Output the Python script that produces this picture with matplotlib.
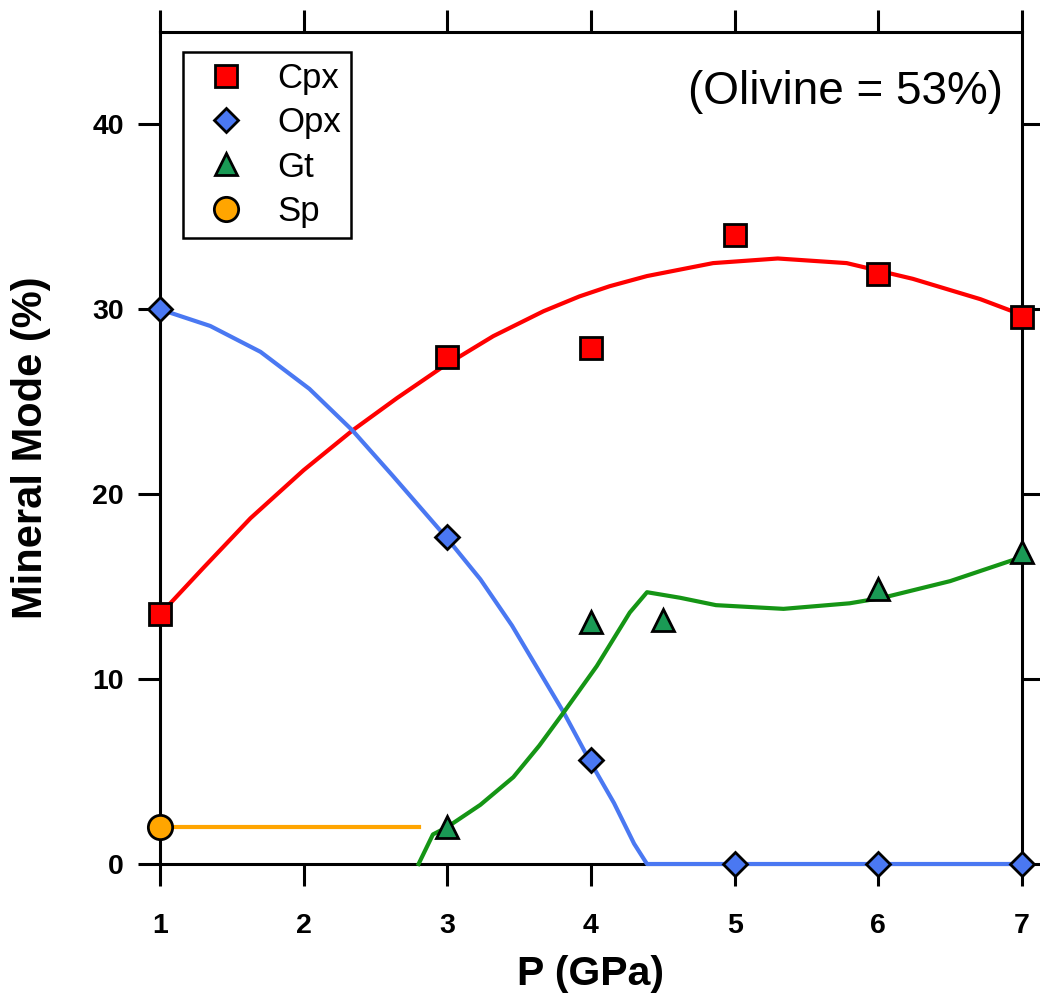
import numpy as np
import matplotlib
matplotlib.use("Agg")
import matplotlib.pyplot as plt

plt.rcParams['font.family'] = ['Liberation Sans', 'DejaVu Sans']

# -----------------------------
# DATA
# -----------------------------
p_cpx = [1, 3, 4, 5, 6, 7]
cpx = [13.5, 27.4, 27.9, 34.0, 31.9, 29.6]

p_opx = [1, 3, 4, 5, 6, 7]
opx = [30.0, 17.7, 5.6, 0.0, 0.0, 0.0]

p_gt = [3, 4, 4.5, 6, 7]
gt = [2.0, 13.1, 13.2, 14.85, 16.9]

p_sp = [1]
sp = [2.0]

# fitted curves, points
cpx_fit_p = [1.0, 1.3, 1.63, 2.0, 2.34, 2.65, 2.97, 3.32, 3.67, 3.92, 4.13, 4.39,
             4.85, 5.3, 5.78, 6.24, 6.71, 7.0]
cpx_fit = [13.5, 16.0, 18.7, 21.3, 23.45, 25.2, 26.9, 28.55, 29.9, 30.7, 31.25, 31.8,
           32.5, 32.75, 32.5, 31.65, 30.55, 29.7]

opx_fit_p = [1.0, 1.35, 1.7, 2.04, 2.34, 2.62, 3.0, 3.23, 3.45, 3.81, 3.99, 4.16,
             4.3, 4.39, 7.0]
opx_fit = [30.0, 29.1, 27.7, 25.7, 23.45, 21.0, 17.6, 15.4, 12.9, 8.2, 5.6, 3.3,
           1.1, 0.0, 0.0]

gt_fit_p = [2.8, 2.9, 3.0, 3.23, 3.46, 3.64, 3.81, 4.04, 4.27, 4.39, 4.62, 4.87,
            5.34, 5.8, 6.03, 6.5, 6.96, 7.0]
gt_fit = [0.0, 1.6, 2.0, 3.2, 4.7, 6.4, 8.2, 10.7, 13.6, 14.7, 14.4, 14.0,
          13.8, 14.1, 14.4, 15.3, 16.5, 16.75]

sp_fit_p = [1.0, 2.8]
sp_fit = [2.0, 2.0]

x_ticks = [1, 2, 3, 4, 5, 6, 7]
y_ticks = [0, 10, 20, 30, 40]

# -----------------------------
# PLOT
# -----------------------------
fig = plt.figure(figsize=(10.4, 10.0), dpi=100)
ax = fig.add_axes([0.1538, 0.136, 0.8289, 0.832])

ax.plot(cpx_fit_p, cpx_fit, color='#ff0000', lw=3.0, zorder=3, clip_on=False)
ax.plot(opx_fit_p, opx_fit, color='#4a78f2', lw=3.0, zorder=3, clip_on=False)
ax.plot(gt_fit_p, gt_fit, color='#159515', lw=3.0, zorder=3, clip_on=False)
ax.plot(sp_fit_p, sp_fit, color='#ffa500', lw=3.0, zorder=3, clip_on=False)

mk = dict(ls='none', mec='black', mew=2.0, zorder=4, clip_on=False)
ax.plot(p_cpx, cpx, marker='s', ms=16, mfc='#ff0000', label='Cpx', **mk)
ax.plot(p_opx, opx, marker='D', ms=12, mfc='#4a78f2', label='Opx', **mk)
ax.plot(p_gt, gt, marker='^', ms=15.5, mfc='#1a9a55', label='Gt', **mk)
ax.plot(p_sp, sp, marker='o', ms=17.5, mfc='#ffa500', label='Sp', **mk)

ax.set_xlim(1, 7)
ax.set_ylim(0, 45)
ax.set_xticks(x_ticks)
ax.set_yticks(y_ticks)

for s in ax.spines.values():
    s.set_linewidth(2.2)
ax.tick_params(direction='out', length=16, width=2.2, top=True, right=True,
               labelsize=20.5, pad=10)
ax.tick_params(axis='x', pad=19)
for lab in ax.get_xticklabels() + ax.get_yticklabels():
    lab.set_fontweight('bold')

ax.set_xlabel('P (GPa)', fontsize=29.5, fontweight='bold', labelpad=12)
ax.set_ylabel('Mineral Mode (%)', fontsize=30, fontweight='bold', labelpad=30)

ax.text(0.978, 0.928, '(Olivine = 53%)', transform=ax.transAxes,
        ha='right', va='center', fontsize=33)

leg = ax.legend(loc='upper left', bbox_to_anchor=(0.027, 0.976), fontsize=25,
                frameon=True, fancybox=False, framealpha=1, edgecolor='black',
                borderpad=0.3, handlelength=1.85, handletextpad=0.55,
                labelspacing=0.32, borderaxespad=0)
leg.get_frame().set_linewidth(1.8)

plt.savefig('out.png', dpi=100)
